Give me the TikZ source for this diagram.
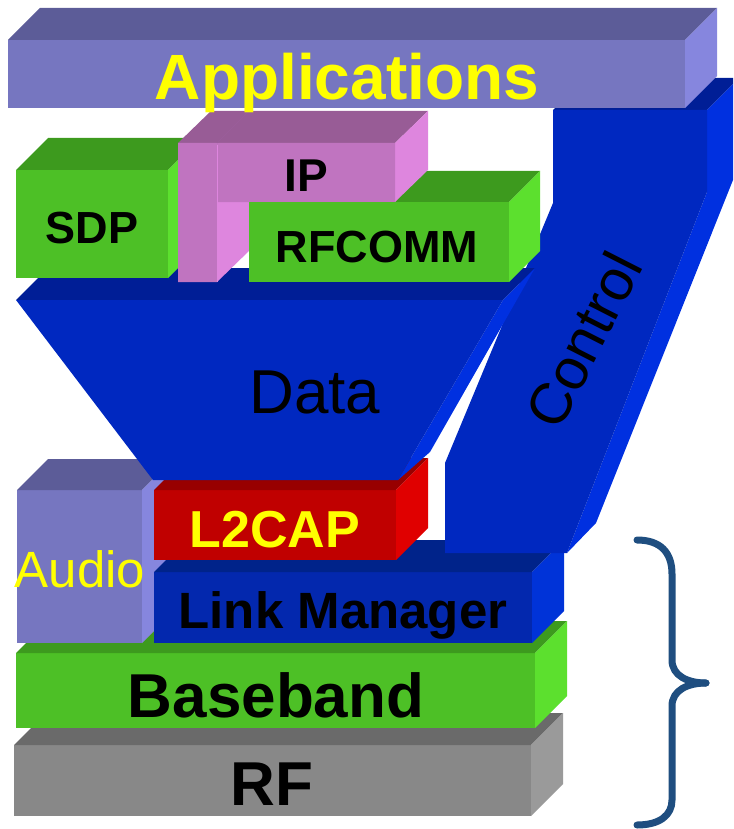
\documentclass[tikz,border=0pt]{standalone}
\usepackage{fontspec}
\setmainfont{Liberation Sans}
\newcommand\fsz[1]{\fontsize{#1}{#1}\selectfont}
% 3D slab: x1,y1 (front top-left), x2,y2 (front bottom-right), depth, front, top, side
\newcommand\slab[8]{%
  \fill[#6] (#1,#2) rectangle (#3,#4);
  \fill[#7] (#1,#2) -- ++(#5,-#5) -- ({#3+#5},{#2-#5}) -- (#3,#2) -- cycle;
  \fill[#8] (#3,#2) -- ++(#5,-#5) -- ({#3+#5},{#4-#5}) -- (#3,#4) -- cycle;}
\definecolor{appF}{HTML}{7676C0}\definecolor{appT}{HTML}{5C5C98}\definecolor{appR}{HTML}{8686DE}
\definecolor{grnF}{HTML}{4DC026}\definecolor{grnT}{HTML}{3D9A1E}\definecolor{grnR}{HTML}{5CE02E}
\definecolor{pnkF}{HTML}{C074C0}\definecolor{pnkT}{HTML}{985C96}\definecolor{pnkR}{HTML}{DE86DE}
\definecolor{redF}{HTML}{C00000}\definecolor{redT}{HTML}{980000}\definecolor{redR}{HTML}{E00000}
\definecolor{lmF}{HTML}{0328AE}\definecolor{lmT}{HTML}{00238A}\definecolor{lmR}{HTML}{0033D8}
\definecolor{gryF}{HTML}{888888}\definecolor{gryT}{HTML}{6A6A6A}\definecolor{gryR}{HTML}{9A9A9A}
\definecolor{bluF}{HTML}{0028C0}\definecolor{bluT}{HTML}{001E96}\definecolor{bluR}{HTML}{0030E0}
\definecolor{brc}{HTML}{1F4E80}
\definecolor{ylw}{HTML}{FFFF00}
\begin{document}
\begin{tikzpicture}[x=1pt,y=-1pt,
  lbl/.style={inner sep=0pt,anchor=base},
  bracestyle/.style={draw=brc,line width=7pt,line cap=round}]
\useasboundingbox (0,0) rectangle (733,829);
\clip (0,0) rectangle (733,829);
% lower stack
\slab{14}{745}{531}{816}{32}{gryF}{gryT}{gryR}
\slab{16}{653}{535}{728}{32}{grnF}{grnT}{grnR}
\slab{17}{490}{142}{643}{31}{appF}{appT}{appR}
\slab{154}{572}{532}{643}{32}{lmF}{lmT}{lmR}
\slab{154}{490}{396}{560}{32}{redF}{redT}{redR}
% control bar
\fill[bluT] (553,110) -- (585,78) -- (739,78) -- (707,110) -- cycle;
\fill[bluR] (707,110) -- (739,78) -- (739,165) -- (596,523) -- (567,553) -- (707,192) -- cycle;
\fill[bluF] (553,110) -- (707,110) -- (707,192) -- (567,553) -- (445,553) -- (445,463) -- (553,203) -- cycle;
% applications
\slab{8}{40}{685}{108}{32}{appF}{appT}{appR}
% data funnel
\fill[bluT] (16,300) -- (48,268) -- (535,268) -- (503,300) -- cycle;
\fill[bluR] (503,300) -- (535,268) -- (430,452) -- (398,480) -- cycle;
\fill[bluF] (16,300) -- (503,300) -- (398,480) -- (153,480) -- cycle;
% SDP
\slab{16}{170}{168}{278}{32}{grnF}{grnT}{grnR}
% RFCOMM back faces
\fill[grnT] (249,202) -- (280,171) -- (540,171) -- (509,202) -- cycle;
\fill[grnR] (509,202) -- (540,171) -- (540,251) -- (509,282) -- cycle;
% IP (inverted L)
\fill[pnkR] (217,202) -- (250,170) -- (250,250) -- (217,282) -- cycle;
\fill[pnkT] (178,143) -- (211,111) -- (428,111) -- (395,143) -- cycle;
\fill[pnkR] (395,143) -- (428,111) -- (428,170) -- (395,202) -- cycle;
\fill[pnkF] (178,143) -- (395,143) -- (395,202) -- (217,202) -- (217,282) -- (178,282) -- cycle;
\draw[pnkR,line width=1pt] (217,145) -- (217,282);
\draw[pnkF!80!black,line width=0.8pt] (217,143) -- (249,111);
% RFCOMM front
\fill[grnF] (249,202) rectangle (509,282);
% labels
\node[lbl,font=\fsz{64}\bfseries,text=ylw] (tApp) at (347,100) {Applications};
\node[lbl,font=\fsz{45}\bfseries] (tSDP) at (92,243) {SDP};
\node[lbl,font=\fsz{46}\bfseries] (tIP) at (306,192) {IP};
\node[lbl,font=\fsz{45}\bfseries] (tRF) at (377,262) {RFCOMM};
\node[lbl,font=\fsz{62}] (tData) at (315,413) {Data};
\node[inner sep=0pt,font=\fsz{58},rotate=63] (tCtl) at (583,340) {Control};
\node[lbl,font=\fsz{51},text=ylw] (tAudio) at (80,587) {Audio};
\node[lbl,font=\fsz{52}\bfseries,text=ylw] (tL2) at (275,547) {L2CAP};
\node[lbl,font=\fsz{51}\bfseries] (tLM) at (343,628) {Link Manager};
\node[lbl,font=\fsz{62}\bfseries] (tBB) at (276,717) {Baseband};
\node[lbl,font=\fsz{62}\bfseries] (tRFl) at (272,805) {RF};
% brace
\draw[bracestyle] (637,540) .. controls (660,540) and (672,552) .. (672,574) -- (672,660) .. controls (672,676) and (688,683) .. (706,683);
\draw[bracestyle] (706,683) .. controls (688,683) and (672,690) .. (672,706) -- (672,800) .. controls (672,815) and (660,825) .. (637,825);
\end{tikzpicture}
\end{document}
